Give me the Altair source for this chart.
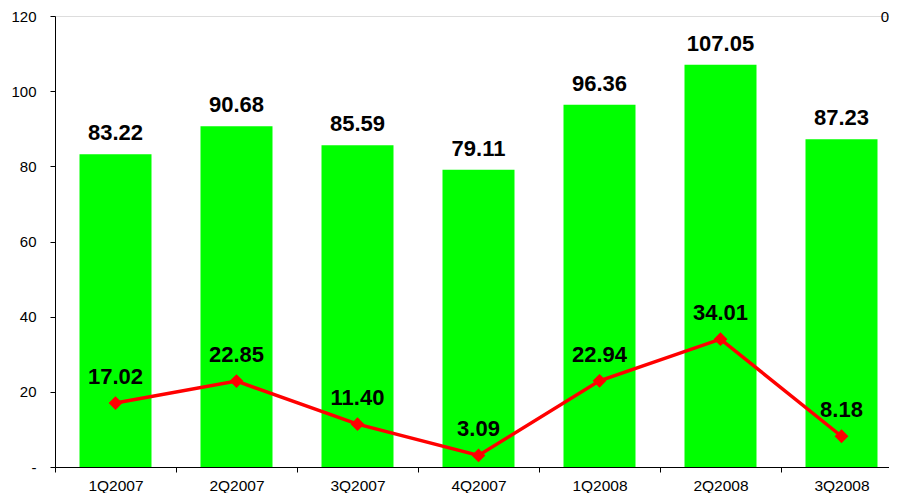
import altair as alt
import pandas as pd

quarters = ["1Q2007", "2Q2007", "3Q2007", "4Q2007", "1Q2008", "2Q2008", "3Q2008"]
bar_values = [83.22, 90.68, 85.59, 79.11, 96.36, 107.05, 87.23]
line_values = [17.02, 22.85, 11.40, 3.09, 22.94, 34.01, 8.18]

df = pd.DataFrame({"q": quarters, "bar": bar_values, "line": line_values})
df["bar_lbl"] = [f"{v:.2f}" for v in bar_values]
df["line_lbl"] = [f"{v:.2f}" for v in line_values]

FONT = "Liberation Sans"

x_scale = alt.Scale(paddingInner=0, paddingOuter=0, range=[0, 847])
x_enc = alt.X(
    "q:N",
    sort=quarters,
    title=None,
    scale=x_scale,
    axis=alt.Axis(
        labelAngle=0,
        tickBand="extent",
        tickSize=5,
        labelPadding=6,
        labelFontSize=15.5,
        labelFont=FONT,
        labelColor="black",
        domainColor="black",
        tickColor="black",
        grid=False,
    ),
)
y_scale = alt.Scale(domain=[0, 120], nice=False)
y_axis = alt.Axis(
    values=[0, 20, 40, 60, 80, 100, 120],
    labelExpr="datum.value == 0 ? '-' : datum.label",
    tickSize=5,
    labelPadding=14,
    labelFontSize=15,
    labelFont=FONT,
    labelColor="black",
    domainColor="black",
    tickColor="black",
    grid=False,
    title=None,
)

base = alt.Chart(df)
xq = alt.X("q:N", sort=quarters, scale=x_scale)

bars = base.mark_bar(color="#00FF00", width=alt.RelativeBandSize(0.595)).encode(
    x=x_enc,
    y=alt.Y("bar:Q", scale=y_scale, axis=y_axis),
)
bar_text = base.mark_text(
    font=FONT, fontSize=22, fontWeight="bold", color="black",
    baseline="alphabetic", dy=-14,
).encode(x=xq, y=alt.Y("bar:Q"), text="bar_lbl:N")

line = base.mark_line(color="#FF0000", strokeWidth=3.5).encode(
    x=xq, y=alt.Y("line:Q")
)
pts = base.mark_point(shape="diamond", filled=True, size=190, color="#FF0000", opacity=1).encode(
    x=xq, y=alt.Y("line:Q")
)
line_text = base.mark_text(
    font=FONT, fontSize=22, fontWeight="bold", color="black",
    baseline="alphabetic", dy=-19,
).encode(x=xq, y=alt.Y("line:Q"), text="line_lbl:N")

corner = alt.Chart(pd.DataFrame({"t": ["0"]})).mark_text(
    font=FONT, fontSize=15, color="black", baseline="top", align="center"
).encode(x=alt.value(830), y=alt.value(-6), text="t:N")

chart = alt.layer(bars, bar_text, line, pts, line_text, corner).properties(
    width=834,
    height=451,
    padding={"left": 47, "top": 8, "right": 0, "bottom": 26},
    autosize=alt.AutoSizeParams(type="none"),
).configure_view(stroke=None).configure(background="white")

chart.save("out.html", embed_options={"renderer": "svg", "actions": False})
